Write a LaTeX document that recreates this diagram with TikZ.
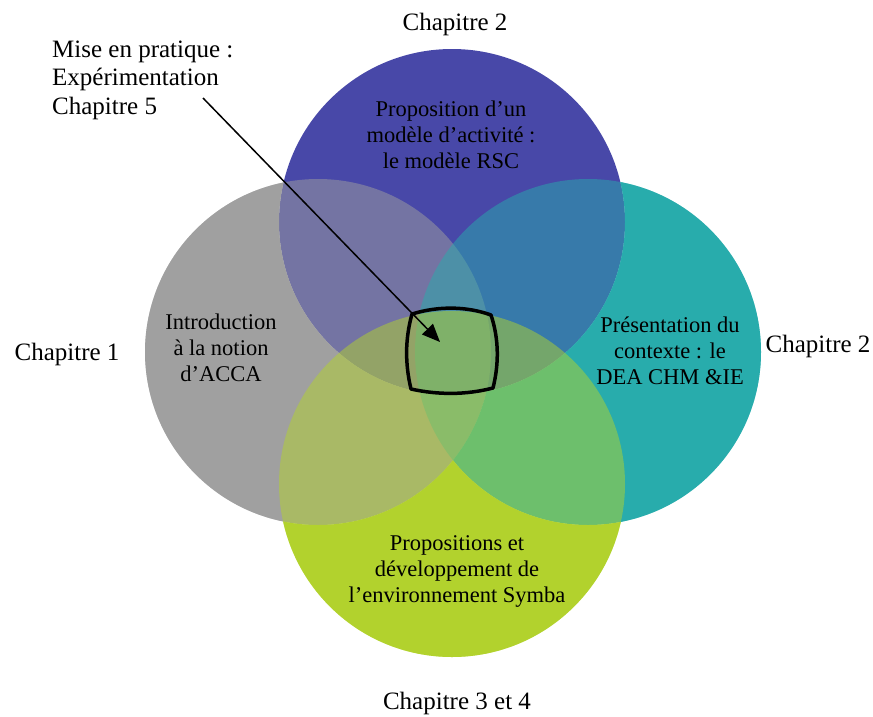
\documentclass[tikz,border=0pt]{standalone}
\usepackage{fontspec}
\setmainfont{Liberation Serif}
\usetikzlibrary{arrows.meta}
\definecolor{cblue}{RGB}{72,72,168}
\definecolor{cgray}{RGB}{160,160,160}
\definecolor{cteal}{RGB}{40,172,172}
\definecolor{cgreen}{RGB}{178,210,45}
\begin{document}
\begin{tikzpicture}[x=1pt,y=-1pt,
  lbl/.style={font=\fontsize{25}{28.5}\selectfont, inner sep=0pt},
  inlbl/.style={font=\fontsize{22.5}{26}\selectfont, align=center, inner sep=0pt},
  overlay fill/.style={fill opacity=0.5},
  core/.style={draw=black, line width=3.5pt, line join=round},
  pointer/.style={draw=black, line width=1.5pt, -{Triangle[length=18pt,width=15pt]}}
  ]
\useasboundingbox (0,0) rectangle (873,716);
\def\crad{173pt}
\coordinate (cT) at (452,222);
\coordinate (cL) at (318,352);
\coordinate (cR) at (588,352);
\coordinate (cB) at (452,484);
% top circle
\fill[cblue] (cT) circle[radius=\crad];
% left circle
\begin{scope}[even odd rule]
  \clip (-20,-20) rectangle (900,740) (cT) circle[radius=\crad];
  \fill[cgray] (cL) circle[radius=\crad];
\end{scope}
\fill[cgray, overlay fill] (cL) circle[radius=\crad];
% right circle
\begin{scope}[even odd rule]
  \clip (-20,-20) rectangle (900,740) (cT) circle[radius=\crad];
  \clip (-20,-20) rectangle (900,740) (cL) circle[radius=\crad];
  \fill[cteal] (cR) circle[radius=\crad];
\end{scope}
\fill[cteal, overlay fill] (cR) circle[radius=\crad];
% bottom circle
\begin{scope}[even odd rule]
  \clip (-20,-20) rectangle (900,740) (cT) circle[radius=\crad];
  \clip (-20,-20) rectangle (900,740) (cL) circle[radius=\crad];
  \clip (-20,-20) rectangle (900,740) (cR) circle[radius=\crad];
  \fill[cgreen] (cB) circle[radius=\crad];
\end{scope}
\fill[cgreen, overlay fill] (cB) circle[radius=\crad];
% central region
\draw[core] (412,314) .. controls (438,306) and (466,306) .. (491,315)
  .. controls (499,339) and (499,364) .. (493,388)
  .. controls (466,395) and (438,395) .. (411,389)
  .. controls (405,364) and (405,339) .. cycle;
% labels
\node[lbl, anchor=west, align=left] (mise) at (52,80) {Mise en pratique :\\Expérimentation\\Chapitre 5};
\node[lbl] (ch2t) at (455,24) {Chapitre 2};
\node[lbl] (ch1) at (67,354) {Chapitre 1};
\node[lbl] (ch2r) at (818,346) {Chapitre 2};
\node[lbl] (ch34) at (457,703) {Chapitre 3 et 4};
\node[inlbl] (tT) at (451,135) {Proposition d’un\\modèle d’activité :\\le modèle RSC};
\node[inlbl] (tL) at (221,348) {Introduction\\à la notion\\d’ACCA};
\node[inlbl] (tR) at (670,351) {Présentation du\\contexte : le\\DEA CHM \&IE};
\node[inlbl] (tB) at (457,571) {Propositions et\\développement de\\l’environnement Symba};
% pointer
\coordinate (aS) at (203,98);
\coordinate (aE) at (440,342);
\draw[pointer] (aS) -- (aE);
\end{tikzpicture}
\end{document}
